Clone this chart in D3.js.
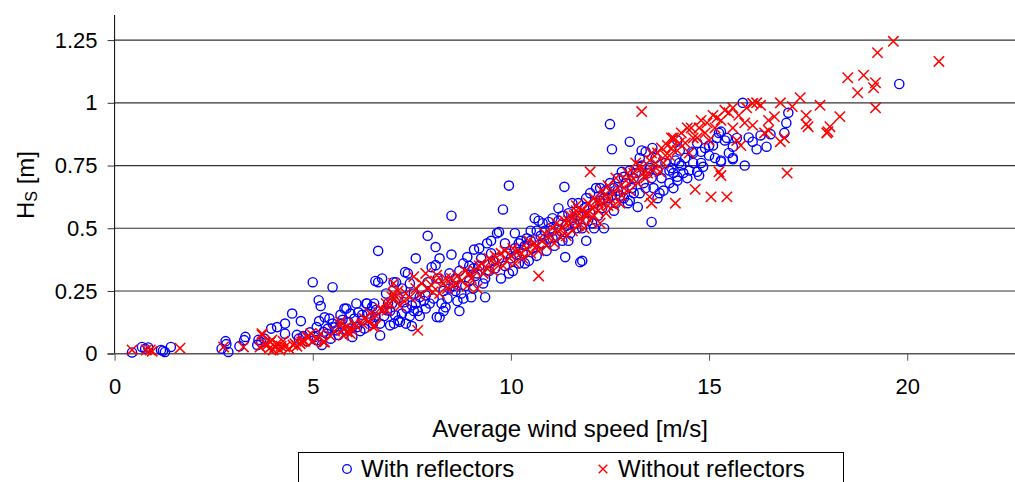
<!DOCTYPE html>
<html><head><meta charset="utf-8">
<script src="https://cdn.jsdelivr.net/npm/d3@7"></script>
<style>html,body{margin:0;padding:0;background:#fff;}svg{display:block;font-family:"Liberation Sans",Arial,sans-serif;}</style>
</head><body>
<svg id="c" width="1015" height="482"></svg>
<script>
// ---- data ----
const xTicks = [0, 5, 10, 15, 20];
const yTicks = [0, 0.25, 0.5, 0.75, 1, 1.25];
const yTickLabels = ["0", "0.25", "0.5", "0.75", "1", "1.25"];
const seriesNames = ["With reflectors", "Without reflectors"];
const xTitle = "Average wind speed [m/s]";

const withReflectors = [
[0.44,0.005],[0.69,0.027],[0.77,0.02],[0.85,0.025],[1.17,0.015],[1.27,0.007],[1.22,0.012],[1.42,0.027],
[2.7,0.02],[2.8,0.05],[2.82,0.038],[2.87,0.007],[3.15,0.03],[3.27,0.054],[3.3,0.067],
[3.6,0.035],[3.63,0.055],[3.7,0.045],[3.78,0.06],[3.95,0.1],[4.1,0.106],[4.3,0.12],[4.3,0.08],[4.48,0.16],[4.7,0.13],
[4.6,0.075],[4.76,0.07],[4.93,0.085],[4.65,0.06],[4.85,0.05],
[5.0,0.285],[5.15,0.213],[5.2,0.19],[5.5,0.265],[5.1,0.054],[5.23,0.035],[5.35,0.08],[5.5,0.12],[5.7,0.155],[5.8,0.18],
[6.1,0.2],[6.35,0.2],[5.16,0.13],[5.3,0.145],[5.42,0.14],[5.1,0.106],[5.27,0.087],[5.04,0.067],[5.38,0.1],[5.6,0.093],
[5.7,0.12],[5.85,0.18],[5.95,0.16],[5.86,0.093],[6.12,0.106],[6.0,0.067],[6.24,0.133],[6.37,0.2],[6.5,0.187],[6.4,0.16],
[6.58,0.146],[6.7,0.073],[6.3,0.1],[6.52,0.12],[6.65,0.41],[6.58,0.29],[6.65,0.285],[6.75,0.3],[6.87,0.173],[7.0,0.2],
[7.04,0.285],[7.1,0.285],[7.16,0.133],[6.95,0.113],[7.2,0.127],[7.08,0.153],[7.33,0.325],[7.4,0.32],[7.37,0.18],[7.5,0.193],
[7.6,0.2],[7.6,0.38],[7.7,0.226],[7.85,0.233],[7.9,0.47],[8.1,0.425],[8.1,0.353],[8.0,0.345],[7.9,0.285],[7.75,0.26],
[7.85,0.18],[8.13,0.146],[7.5,0.11],
[5.55,0.105],[5.75,0.135],[5.9,0.125],[6.05,0.14],[6.15,0.165],[6.2,0.09],[6.45,0.14],[6.6,0.175],[6.8,0.15],[6.9,0.2],
[7.25,0.16],[7.3,0.205],[7.45,0.15],[7.55,0.24],[7.65,0.17],[7.8,0.21],
[8.2,0.38],[8.2,0.145],[8.3,0.25],[8.4,0.22],[8.5,0.395],[8.5,0.55],[8.55,0.27],[8.6,0.3],[8.7,0.33],[8.75,0.24],
[8.8,0.36],[8.9,0.385],[8.95,0.29],[9.0,0.225],[9.07,0.415],[9.1,0.31],[9.2,0.35],[9.3,0.28],[9.35,0.225],[9.4,0.44],
[9.45,0.33],[9.5,0.45],[9.55,0.37],[9.65,0.48],[9.7,0.485],[9.75,0.3],[9.8,0.575],[9.85,0.35],[9.9,0.4],[9.95,0.67],
[10.0,0.38],[10.05,0.33],[10.1,0.42],[10.2,0.36],[10.25,0.45],[10.3,0.4],[10.4,0.46],[10.45,0.37],[10.5,0.49],[10.55,0.42],
[10.6,0.54],[10.65,0.39],[10.7,0.53],[10.75,0.47],[10.8,0.44],[10.9,0.41],[10.95,0.525],[11.0,0.5],[11.05,0.46],[11.1,0.43],
[11.2,0.53],[11.25,0.49],[11.3,0.45],[11.35,0.665],[11.37,0.385],[11.4,0.51],[11.45,0.56],[11.5,0.48],[11.55,0.6],
[11.6,0.52],[11.7,0.55],[11.75,0.365],[11.8,0.37],[11.8,0.5],[11.85,0.58],[11.9,0.45],[12.0,0.56],[12.05,0.52],[12.1,0.6],
[12.15,0.66],[12.2,0.55],[12.3,0.58],[12.35,0.5],[12.4,0.65],[12.45,0.62],[12.5,0.915],[12.55,0.815],[12.6,0.57],[12.65,0.6],
[12.7,0.65],[12.75,0.63],[12.8,0.725],[12.85,0.705],[12.9,0.68],[12.95,0.6],[13.0,0.845],[13.0,0.61],[13.05,0.66],[13.1,0.7],
[13.2,0.585],[13.25,0.64],[13.3,0.75],[13.3,0.81],[13.35,0.68],[13.4,0.805],[13.45,0.72],[13.5,0.74],[13.55,0.525],[13.57,0.82],
[13.6,0.66],[13.7,0.73],[13.7,0.62],[13.75,0.64],[13.8,0.7],[13.9,0.76],[14.0,0.68],[14.05,0.74],[14.1,0.72],[14.15,0.77],
[14.2,0.69],[14.2,0.705],[14.2,0.85],[14.26,0.81],[14.3,0.75],[14.4,0.78],[14.5,0.73],[14.57,0.805],[14.6,0.76],[14.7,0.84],
[14.7,0.725],[14.75,0.71],[14.8,0.805],[14.85,0.745],[14.9,0.82],[15.0,0.79],[15.1,0.83],[15.25,0.88],[15.3,0.765],[15.3,0.885],
[15.3,0.77],[15.4,0.85],[15.45,0.86],[15.6,0.775],[15.6,0.78],[15.6,0.825],[15.85,1.0],[15.9,0.75],[16.0,0.862],[16.1,0.845],
[16.2,0.815],[16.3,0.87],[16.45,0.825],[16.55,0.875],[16.9,0.88],[16.95,0.92],[17.0,0.96],[19.8,1.075],
[8.25,0.2],[8.35,0.185],[8.45,0.26],[8.65,0.21],[8.85,0.27],[9.05,0.26],[9.15,0.32],[9.25,0.38],[9.6,0.34],[10.15,0.395],
[10.35,0.43],[10.85,0.49],[11.15,0.47],[11.65,0.5],[11.95,0.53],[12.25,0.61],[12.55,0.63],[13.15,0.72],[13.65,0.78],[14.35,0.72],
[5.45,0.06],[5.65,0.075],[5.95,0.1],[6.25,0.155],[6.55,0.2],[6.7,0.12],[6.85,0.24],[6.95,0.17],[7.05,0.12],[7.15,0.22],
[7.25,0.26],[7.35,0.12],[7.45,0.28],[7.55,0.17],[7.7,0.15],[7.95,0.2],[8.05,0.22],[8.15,0.3],[8.3,0.17],[8.45,0.32],
[8.6,0.25],[8.7,0.17],[8.8,0.22],[8.95,0.35],[9.05,0.34],[9.2,0.42],[9.35,0.3],[9.5,0.4],[9.7,0.38],[9.85,0.44],
[9.95,0.32],[10.1,0.48],[10.2,0.44],[10.35,0.36],[10.5,0.45],[10.65,0.49],[10.8,0.52],[10.95,0.46],[11.05,0.54],
[11.2,0.58],[11.3,0.55],[11.45,0.45],[11.55,0.54],[11.7,0.6],[11.9,0.62],[12.0,0.64],[12.1,0.5],[12.25,0.66],[12.35,0.62],
[12.5,0.68],[12.6,0.66],[12.7,0.7],[12.85,0.62],[13.0,0.73],[13.1,0.64],[13.25,0.78],[13.4,0.66],
[13.55,0.7],[13.85,0.65],[14.0,0.73],[14.1,0.66],[14.25,0.76],[14.45,0.7],[14.6,0.8],[14.8,0.76],[15.0,0.83],[15.15,0.78],
[15.2,0.86],[15.5,0.8],[15.7,0.86]
];

const withoutReflectors = [
[0.44,0.015],[0.8,0.015],[0.9,0.015],[0.95,0.01],[1.65,0.022],[2.75,0.027],[3.25,0.027],
[3.67,0.027],[3.72,0.075],[3.72,0.08],[3.8,0.04],[3.85,0.035],[3.9,0.02],[3.93,0.047],[3.97,0.055],[4.0,0.015],
[4.05,0.027],[4.1,0.04],[4.17,0.015],[4.2,0.03],[4.25,0.05],[4.3,0.027],[4.4,0.02],[4.5,0.035],[4.55,0.04],[4.68,0.04],
[4.72,0.047],[4.75,0.054],[4.85,0.067],[4.88,0.067],[4.95,0.08],[5.1,0.06],[5.27,0.047],[5.3,0.047],[5.45,0.07],[5.7,0.127],
[5.7,0.113],[5.77,0.1],[5.77,0.073],[5.85,0.107],[5.86,0.087],[5.9,0.087],[5.95,0.08],[6.0,0.093],[6.1,0.11],[6.25,0.12],
[6.4,0.13],[6.52,0.107],[6.57,0.11],[6.7,0.18],[6.77,0.173],[6.87,0.173],[6.95,0.2],[7.0,0.226],[7.03,0.24],[7.04,0.28],
[7.06,0.22],[7.1,0.226],[7.2,0.19],[7.3,0.21],[7.45,0.225],[7.55,0.307],[7.65,0.093],[7.7,0.233],[7.85,0.32],[7.9,0.26],
[8.0,0.273],[8.03,0.246],[8.13,0.313],[8.2,0.24],[8.3,0.28],[8.4,0.26],[8.5,0.3],[8.55,0.27],[8.65,0.31],[8.75,0.29],
[8.85,0.33],[8.9,0.27],[9.0,0.3],[9.1,0.33],[9.15,0.26],[9.25,0.36],[9.3,0.32],[9.4,0.34],[9.5,0.37],[9.55,0.33],
[9.65,0.36],[9.75,0.4],[9.8,0.35],[9.9,0.37],[10.0,0.39],[10.1,0.36],[10.2,0.41],[10.3,0.38],[10.4,0.42],[10.5,0.4],
[10.6,0.44],[10.7,0.31],[10.7,0.41],[10.8,0.45],[10.9,0.43],[11.0,0.47],[11.1,0.44],[11.2,0.49],[11.25,0.465],[11.3,0.5],
[11.4,0.47],[11.5,0.52],[11.55,0.49],[11.6,0.55],[11.7,0.51],[11.75,0.54],[11.8,0.57],[11.85,0.5],[11.9,0.56],[11.95,0.6],
[12.0,0.725],[12.0,0.53],[12.05,0.58],[12.1,0.55],[12.15,0.61],[12.2,0.57],[12.25,0.52],[12.3,0.6],[12.35,0.63],[12.4,0.56],
[12.5,0.62],[12.6,0.59],[12.7,0.66],[12.8,0.63],[12.9,0.69],[13.0,0.65],[13.1,0.72],[13.2,0.68],[13.3,0.965],[13.3,0.74],
[13.4,0.7],[13.5,0.77],[13.5,0.625],[13.55,0.6],[13.6,0.73],[13.7,0.8],[13.76,0.725],[13.85,0.76],[13.95,0.83],[14.0,0.79],
[14.1,0.86],[14.15,0.6],[14.2,0.81],[14.3,0.88],[14.4,0.84],[14.5,0.8],[14.55,0.9],[14.65,0.655],[14.7,0.86],[14.8,0.93],
[14.9,0.88],[15.0,0.85],[15.05,0.625],[15.1,0.95],[15.2,0.94],[15.25,0.725],[15.3,0.93],[15.3,0.71],[15.45,0.625],[15.5,0.96],
[15.6,0.98],[15.6,0.9],[15.7,0.85],[15.8,0.83],[15.9,0.92],[16.1,0.91],[16.1,0.998],[16.2,1.0],[16.3,0.99],[16.4,0.88],
[16.5,0.89],[16.5,0.93],[16.65,0.945],[16.8,0.845],[16.8,1.0],[16.9,0.86],[16.97,0.72],[17.1,0.985],[17.3,1.02],[17.45,0.95],
[17.45,0.915],[17.5,0.905],[17.8,0.99],[17.97,0.88],[18.0,0.885],[18.05,0.905],[18.3,0.945],[18.5,1.1],[18.75,1.04],[18.9,1.11],
[19.15,1.06],[19.2,0.98],[19.2,1.08],[19.25,1.2],[19.65,1.245],[20.8,1.165],
[11.45,0.53],[11.65,0.57],[12.45,0.59],[12.75,0.6],[13.05,0.69],[13.25,0.75],[13.45,0.72],[13.65,0.76],[13.9,0.79],[14.05,0.82],
[4.6,0.03],[4.8,0.05],[5.0,0.05],[5.2,0.08],[5.55,0.09],[6.05,0.12],[6.3,0.14],[6.45,0.16],[6.6,0.15],[6.85,0.2],
[7.15,0.25],[7.35,0.24],[7.6,0.26],[7.75,0.28],[8.1,0.29],[8.35,0.3],[8.6,0.28],[8.95,0.32],[9.2,0.35],[9.45,0.38],
[9.6,0.39],[9.85,0.41],[10.05,0.42],[10.25,0.4],[10.45,0.45],[10.65,0.43],[10.85,0.48],[11.05,0.5],[11.15,0.52],[11.35,0.53],
[11.5,0.55],[11.65,0.59],[11.8,0.53],[11.95,0.56],[12.1,0.62],[12.2,0.6],[12.3,0.65],[12.45,0.67],[12.55,0.64],[12.65,0.7],
[12.85,0.66],[12.95,0.72],[13.15,0.76],[13.35,0.72],[13.55,0.8],[13.8,0.82],[14.05,0.86],[14.25,0.84],[14.45,0.9],[14.6,0.86],
[14.75,0.9],[14.95,0.92],[15.15,0.9],[15.4,0.97],[15.75,0.95],[15.95,0.98]
];

// ---- chart ----
const svg = d3.select("#c");
const x = d3.scaleLinear().domain([0, 22.72]).range([114.6, 1015]);
const y = d3.scaleLinear().domain([0, 1.35]).range([353.7, 15]);

// gridlines
svg.append("g").selectAll("line").data(yTicks.filter(d => d > 0)).join("line")
  .attr("x1", x(0)).attr("x2", 1015)
  .attr("y1", d => y(d)).attr("y2", d => y(d))
  .attr("stroke", "#333").attr("stroke-width", 1.2);

// y axis
const yAxis = d3.axisLeft(y).tickValues(yTicks).tickSize(7).tickPadding(10)
  .tickFormat((d, i) => yTickLabels[i]);
const gy = svg.append("g").attr("transform", `translate(${x(0)},0)`).call(yAxis);
gy.select(".domain").attr("d", `M0,${y(1.35)}V${y(0)}`).attr("stroke", "#000");
gy.selectAll(".tick line").attr("stroke", "#333");
gy.selectAll("text").attr("font-size", 22).attr("fill", "#000").attr("font-family", "Liberation Sans, Arial, sans-serif");

// x axis
const xAxis = d3.axisBottom(x).tickValues(xTicks).tickSize(7).tickPadding(18);
const gx = svg.append("g").attr("transform", `translate(0,${y(0)})`).call(xAxis);
gx.select(".domain").attr("d", `M${x(0) - 7},0H1015`).attr("stroke", "#555").attr("stroke-width", 1.4);
gx.selectAll(".tick line").attr("stroke", "#555");
gx.selectAll("text").attr("font-size", 22).attr("fill", "#000").attr("font-family", "Liberation Sans, Arial, sans-serif");

// titles
svg.append("text").attr("x", 570).attr("y", 437).attr("text-anchor", "middle")
  .attr("font-size", 24).text(xTitle);
const yt = svg.append("text").attr("transform", "translate(34,185) rotate(-90)")
  .attr("text-anchor", "middle").attr("font-size", 24);
yt.append("tspan").text("H");
yt.append("tspan").attr("font-size", 16).attr("dy", 3).text("S");
yt.append("tspan").attr("dy", -3).text(" [m]");

// markers
const plot = svg.append("g");
plot.selectAll("circle").data(withReflectors).join("circle")
  .attr("cx", d => x(d[0])).attr("cy", d => y(d[1])).attr("r", 4.6)
  .attr("fill", "none").attr("stroke", "#0000ff").attr("stroke-width", 1.4);
const cs = 5.2;
plot.selectAll("path.x").data(withoutReflectors).join("path").attr("class", "x")
  .attr("d", d => { const cx = x(d[0]), cy = y(d[1]);
    return `M${cx - cs},${cy - cs}L${cx + cs},${cy + cs}M${cx - cs},${cy + cs}L${cx + cs},${cy - cs}`; })
  .attr("stroke", "#ff0000").attr("stroke-width", 1.5).attr("fill", "none");

// legend
const lg = svg.append("g");
lg.append("rect").attr("x", 298.5).attr("y", 452.5).attr("width", 545).attr("height", 60)
  .attr("fill", "#fff").attr("stroke", "#000").attr("stroke-width", 1);
lg.append("circle").attr("cx", 347).attr("cy", 469).attr("r", 4.3)
  .attr("fill", "none").attr("stroke", "#0000ff").attr("stroke-width", 1.3);
lg.append("text").attr("x", 361).attr("y", 477).attr("font-size", 24).text(seriesNames[0]);
const lx = 603, ly = 469, ls = 4.3;
lg.append("path").attr("d", `M${lx - ls},${ly - ls}L${lx + ls},${ly + ls}M${lx - ls},${ly + ls}L${lx + ls},${ly - ls}`)
  .attr("stroke", "#ff0000").attr("stroke-width", 1.4);
lg.append("text").attr("x", 618).attr("y", 477).attr("font-size", 24).text(seriesNames[1]);
</script>
</body></html>
